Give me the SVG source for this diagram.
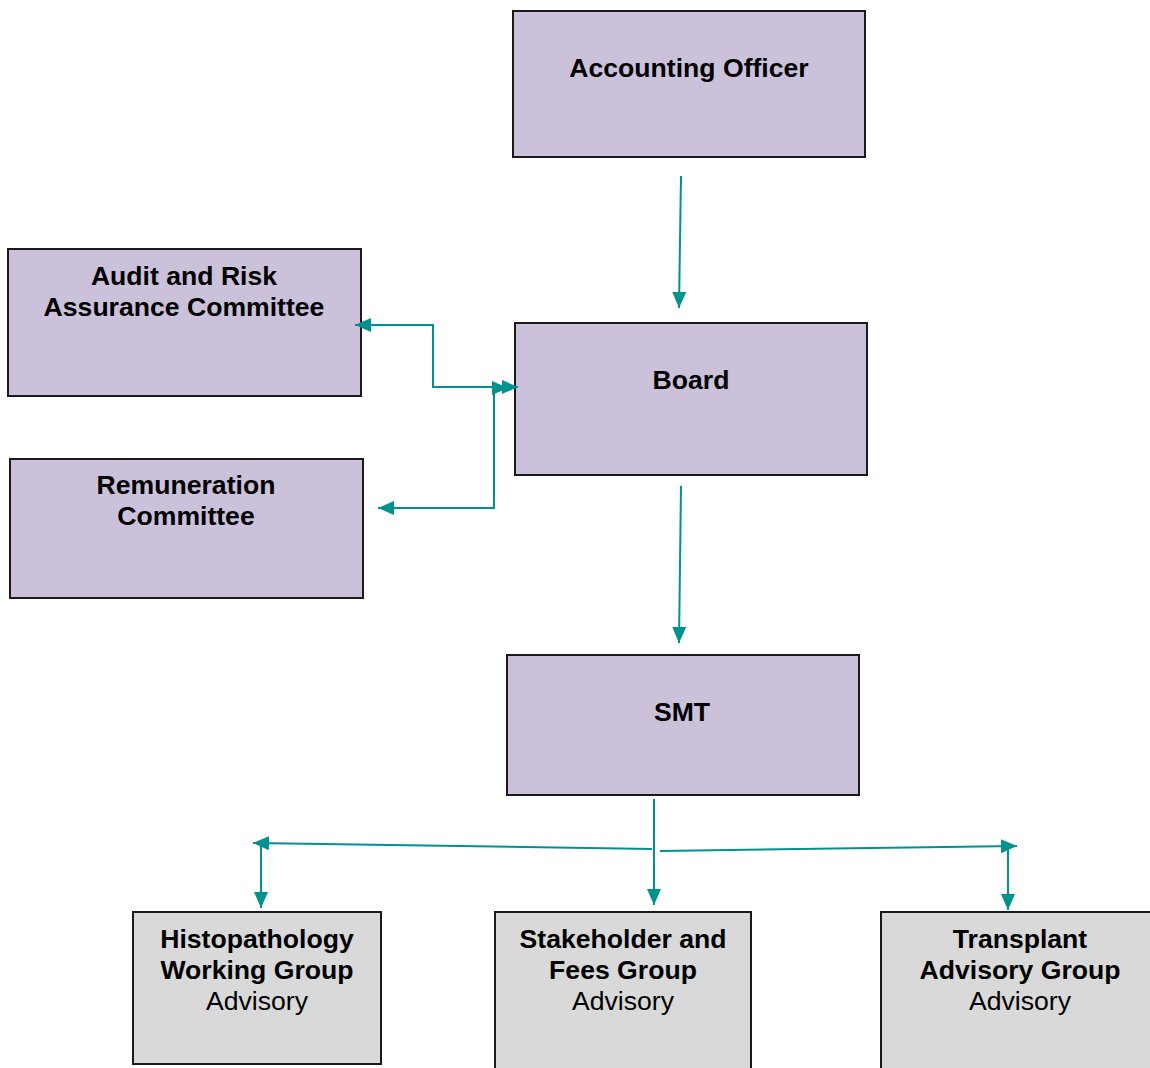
<svg xmlns="http://www.w3.org/2000/svg" width="1150" height="1068" viewBox="0 0 1150 1068">
<style>
.p{fill:#CBC1DB;stroke:#1a1a1a;stroke-width:2}
.g{fill:#D9D9D9;stroke:#1a1a1a;stroke-width:2}
.b{font-family:"Liberation Sans",Arial,sans-serif;font-weight:bold;font-size:26.6px;text-anchor:middle;fill:#000}
.r{font-family:"Liberation Sans",Arial,sans-serif;font-size:26.6px;text-anchor:middle;fill:#000}
.c{fill:none;stroke:#00928F;stroke-width:2}
</style>
<defs>
<marker id="ah" viewBox="0 0 16 14" refX="16" refY="7" markerWidth="16" markerHeight="14" orient="auto-start-reverse" markerUnits="userSpaceOnUse">
<path d="M0,0 L16,7 L0,14 z" fill="#00928F"/>
</marker>
</defs>
<rect width="1150" height="1068" fill="#fff"/>
<g id="accounting-officer"><rect class="p" x="513" y="11" width="352" height="146"/><text class="b" x="689" y="77">Accounting Officer</text></g>
<g id="audit"><rect class="p" x="8" y="249" width="353" height="147"/><text class="b" x="184" y="285">Audit and Risk</text><text class="b" x="184" y="316">Assurance Committee</text></g>
<g id="board"><rect class="p" x="515" y="323" width="352" height="152"/><text class="b" x="691" y="389">Board</text></g>
<g id="remuneration"><rect class="p" x="10" y="459" width="353" height="139"/><text class="b" x="186" y="494">Remuneration</text><text class="b" x="186" y="525">Committee</text></g>
<g id="smt"><rect class="p" x="507" y="655" width="352" height="140"/><text class="b" x="682" y="721">SMT</text></g>
<g id="histopathology"><rect class="g" x="133" y="912" width="248" height="152"/><text class="b" x="257" y="948">Histopathology</text><text class="b" x="257" y="979">Working Group</text><text class="r" x="257" y="1010">Advisory</text></g>
<g id="stakeholder"><rect class="g" x="495" y="912" width="256" height="160"/><text class="b" x="623" y="948">Stakeholder and</text><text class="b" x="623" y="979">Fees Group</text><text class="r" x="623" y="1010">Advisory</text></g>
<g id="transplant"><rect class="g" x="881" y="912" width="280" height="160"/><text class="b" x="1020" y="948">Transplant</text><text class="b" x="1020" y="979">Advisory Group</text><text class="r" x="1020" y="1010">Advisory</text></g>
<g id="connectors">
<path class="c" d="M681,176 L679,308" marker-end="url(#ah)"/>
<path class="c" d="M681,486 L679,643" marker-end="url(#ah)"/>
<path class="c" d="M355,325 H433 V387 H518" marker-start="url(#ah)" marker-end="url(#ah)"/>
<path class="c" d="M378,508 H494 V388 H508" marker-start="url(#ah)" marker-end="url(#ah)"/>
<path class="c" d="M654,799 V905" marker-end="url(#ah)"/>
<path class="c" d="M652,849 L253,843" marker-end="url(#ah)"/>
<path class="c" d="M660,851 L1017,846" marker-end="url(#ah)"/>
<path class="c" d="M261,844 V908" marker-end="url(#ah)"/>
<path class="c" d="M1008,848 V910" marker-end="url(#ah)"/>
</g>
</svg>
